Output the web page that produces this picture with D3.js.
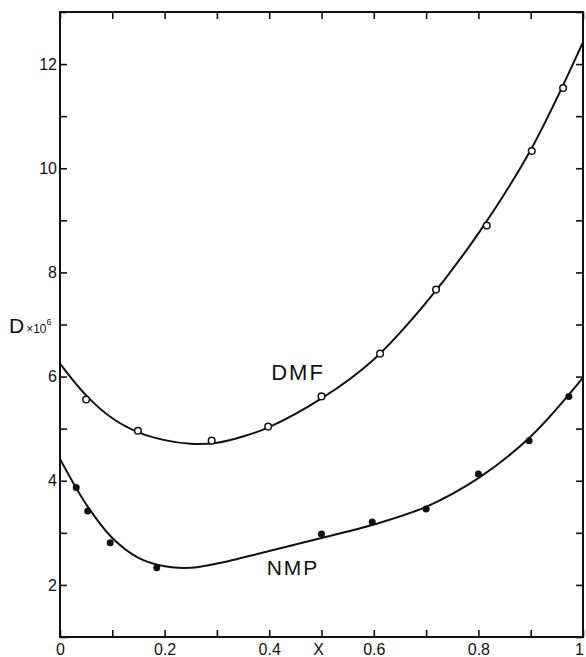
<!DOCTYPE html>
<html><head><meta charset="utf-8">
<script src="https://cdn.jsdelivr.net/npm/d3@7"></script>
<style>body{margin:0;background:#fff}svg{display:block}text{font-family:"Liberation Sans",Arial,sans-serif;fill:#111}</style>
</head><body>
<svg id="c" width="586" height="657"></svg>
<script>
// Data
const dmfX = [0.05, 0.149, 0.29, 0.398, 0.50, 0.612, 0.719, 0.816, 0.902, 0.962];
const dmfD = [5.56, 4.96, 4.77, 5.04, 5.62, 6.44, 7.67, 8.90, 10.33, 11.54];
const nmpX = [0.031, 0.053, 0.096, 0.185, 0.50, 0.597, 0.70, 0.80, 0.897, 0.973];
const nmpD = [3.87, 3.42, 2.81, 2.33, 2.98, 3.21, 3.46, 4.13, 4.77, 5.62];
// Fitted curves
const dmfCurveX = [0, 0.05, 0.1, 0.15, 0.2, 0.25, 0.3, 0.35, 0.4, 0.5, 0.6, 0.7, 0.8, 0.9, 1.0];
const dmfCurveD = [6.25, 5.64, 5.20, 4.93, 4.78, 4.71, 4.73, 4.85, 5.03, 5.58, 6.33, 7.42, 8.75, 10.35, 12.42];
const nmpCurveX = [0, 0.05, 0.1, 0.15, 0.2, 0.25, 0.3, 0.4, 0.5, 0.6, 0.7, 0.8, 0.9, 1.0];
const nmpCurveD = [4.42, 3.55, 2.90, 2.52, 2.36, 2.33, 2.41, 2.65, 2.90, 3.16, 3.50, 4.05, 4.85, 5.98];
const xTicks = [0, 0.1, 0.2, 0.3, 0.4, 0.5, 0.6, 0.7, 0.8, 0.9, 1.0];
const xLabels = ["0", "", "0.2", "", "0.4", "", "0.6", "", "0.8", "", "1"];
const yTicks = [1, 2, 3, 4, 5, 6, 7, 8, 9, 10, 11, 12, 13];
const yLabels = ["", "2", "", "4", "", "6", "", "8", "", "10", "", "12", ""];

const svg = d3.select("#c");
const L = 60, R = 583, T = 12, B = 637;
const x = d3.scaleLinear().domain([0, 1]).range([L, R]);
const y = d3.scaleLinear().domain([1, 13]).range([B, T]);
const tl = 7;

// frame
svg.append("rect").attr("x", L).attr("y", T).attr("width", R - L).attr("height", B - T)
  .attr("fill", "none").attr("stroke", "#111").attr("stroke-width", 2);

// axes with inward ticks
const gBottom = svg.append("g").attr("transform", `translate(0,${B})`)
  .call(d3.axisBottom(x).tickValues(xTicks).tickSize(-tl).tickPadding(7).tickFormat((d, i) => xLabels[i]));
const gTop = svg.append("g").attr("transform", `translate(0,${T})`)
  .call(d3.axisTop(x).tickValues(xTicks).tickSize(-tl).tickFormat(""));
const gLeft = svg.append("g").attr("transform", `translate(${L},0)`)
  .call(d3.axisLeft(y).tickValues(yTicks).tickSize(-tl).tickPadding(3).tickFormat((d, i) => yLabels[i]));
const gRight = svg.append("g").attr("transform", `translate(${R},0)`)
  .call(d3.axisRight(y).tickValues(yTicks).tickSize(-tl).tickFormat(""));
[gBottom, gTop, gLeft, gRight].forEach(g => {
  g.select(".domain").remove();
  g.selectAll(".tick line").attr("stroke", "#111").attr("stroke-width", 1.6);
  g.selectAll(".tick text").attr("font-size", 16).attr("fill", "#111")
    .attr("font-family", '"Liberation Sans", Arial, sans-serif');
});
gBottom.selectAll(".tick text").filter(d => d === 1).attr("dx", -4);

// X axis title in place of 0.5 label
svg.append("text").attr("x", x(0.5) - 3).attr("y", B + 18).attr("text-anchor", "middle")
  .attr("font-size", 16).text("X");

// Y axis title
const yt = svg.append("text").attr("x", 9).attr("y", y(6.98) + 7);
yt.append("tspan").attr("font-size", 21).text("D");
yt.append("tspan").attr("font-size", 12).attr("dx", 2).text("×10");
yt.append("tspan").attr("font-size", 9).attr("dy", -8).text("6");

// curves
const line = d3.line().x(d => x(d[0])).y(d => y(d[1])).curve(d3.curveCatmullRom.alpha(0.5));
svg.append("path").datum(d3.zip(dmfCurveX, dmfCurveD)).attr("d", line)
  .attr("fill", "none").attr("stroke", "#111").attr("stroke-width", 2);
svg.append("path").datum(d3.zip(nmpCurveX, nmpCurveD)).attr("d", line)
  .attr("fill", "none").attr("stroke", "#111").attr("stroke-width", 2);

// points
svg.append("g").selectAll("circle").data(d3.zip(dmfX, dmfD)).join("circle")
  .attr("cx", d => x(d[0])).attr("cy", d => y(d[1])).attr("r", 3.3)
  .attr("fill", "#fff").attr("stroke", "#111").attr("stroke-width", 1.5);
svg.append("g").selectAll("circle").data(d3.zip(nmpX, nmpD)).join("circle")
  .attr("cx", d => x(d[0])).attr("cy", d => y(d[1])).attr("r", 3.5)
  .attr("fill", "#111");

// series labels
svg.append("text").attr("x", 298).attr("y", 380).attr("text-anchor", "middle")
  .attr("font-size", 22).attr("letter-spacing", 2).text("DMF");
svg.append("text").attr("x", 293).attr("y", 575).attr("text-anchor", "middle")
  .attr("font-size", 21).attr("letter-spacing", 2).text("NMP");
</script>
</body></html>
